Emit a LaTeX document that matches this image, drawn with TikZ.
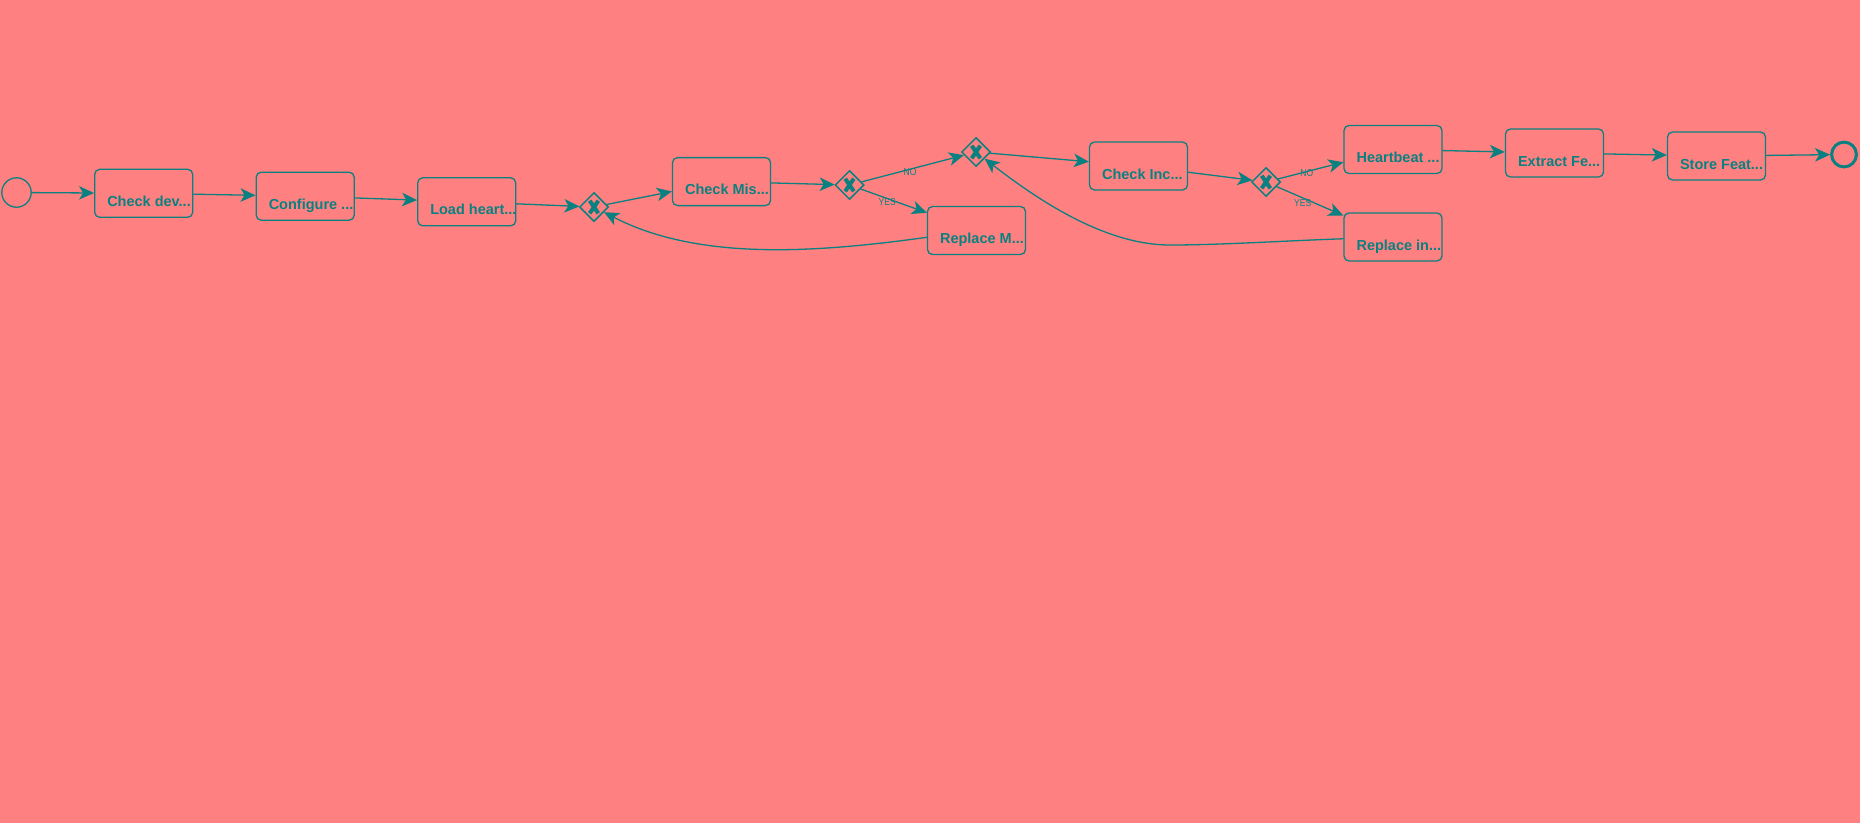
\documentclass[tikz,border=0pt]{standalone}
\usepackage{graphicx}
\usepackage{fontspec}
\setmainfont{Liberation Sans}
\usetikzlibrary{arrows.meta,shapes.geometric}
\definecolor{bg}{HTML}{FF8080}
\definecolor{tl}{HTML}{0B8080}
\begin{document}
\begin{tikzpicture}[x=1pt,y=-1pt,
  task/.style={draw=tl, line width=1.3pt, rounded corners=5pt, minimum width=98pt, minimum height=48pt, inner sep=0pt},
  tasktext/.style={text=tl, font=\fontsize{14.5}{17}\selectfont\bfseries, inner sep=0pt, anchor=base west},
  gw/.style={diamond, draw=tl, line width=1.5pt, minimum width=29pt, minimum height=29pt, inner sep=0pt,
    path picture={\draw[tl, line width=4pt]
      ([shift={(-4.3pt,-6.3pt)}]path picture bounding box.center) -- ([shift={(4.3pt,6.3pt)}]path picture bounding box.center)
      ([shift={(-4.3pt,6.3pt)}]path picture bounding box.center) -- ([shift={(4.3pt,-6.3pt)}]path picture bounding box.center);}},
  flow/.style={draw=tl, line width=1.3pt, -{Stealth[length=15pt,width=13.5pt,inset=4pt]}},
  lbl/.style={text=tl, font=\fontsize{10}{11}\selectfont, inner sep=0pt},
]
\useasboundingbox (0,0) rectangle (1860,823);
\fill[bg] (0,0) rectangle (1860,823);

% events
\node[circle, draw=tl, line width=1.3pt, minimum size=29.4pt, inner sep=0pt] (start) at (16.5,192.5) {};
\node[circle, draw=tl, line width=3pt, minimum size=24.8pt, inner sep=0pt] (stop) at (1844,154.5) {};

% tasks
\node[task] (b1) at (143.7,193.3) {};
\node[task] (b2) at (305.2,196.2) {};
\node[task] (b3) at (466.7,201.8) {};
\node[task] (cm) at (721.5,181.6) {};
\node[task] (rm) at (976.5,230.5) {};
\node[task] (ci) at (1138.5,166) {};
\node[task] (hb) at (1393,149.5) {};
\node[task] (ri) at (1393,237) {};
\node[task] (ex) at (1554.5,153) {};
\node[task] (st) at (1716.5,156) {};

\node[tasktext] (t1) at ([xshift=13pt,yshift=-13pt]b1.west) {Check dev...};
\node[tasktext] (t2) at ([xshift=13pt,yshift=-13pt]b2.west) {Configure ...};
\node[tasktext] (t3) at ([xshift=13pt,yshift=-13pt]b3.west) {Load heart...};
\node[tasktext] (t4) at ([xshift=13pt,yshift=-13pt]cm.west) {Check Mis...};
\node[tasktext] (t5) at ([xshift=13pt,yshift=-13pt]rm.west) {Replace M...};
\node[tasktext] (t6) at ([xshift=13pt,yshift=-13pt]ci.west) {Check Inc...};
\node[tasktext] (t7) at ([xshift=13pt,yshift=-13pt]hb.west) {Heartbeat ...};
\node[tasktext] (t8) at ([xshift=13pt,yshift=-13pt]ri.west) {Replace in...};
\node[tasktext] (t9) at ([xshift=13pt,yshift=-13pt]ex.west) {Extract Fe...};
\node[tasktext] (t10) at ([xshift=13pt,yshift=-13pt]st.west) {Store Feat...};

% gateways
\node[gw] (g1) at (594,207) {};
\node[gw] (g2) at (849.5,185) {};
\node[gw] (g3) at (976,152) {};
\node[gw] (g4) at (1266,182) {};

% flows
\draw[flow] (start) -- (b1);
\draw[flow] (b1) -- (b2);
\draw[flow] (b2) -- (b3);
\draw[flow] (b3) -- (g1);
\draw[flow] (g1) -- (cm);
\draw[flow] (cm) -- (g2);
\draw[flow] (g2) -- node[lbl, pos=0.473, yshift=-3pt] (l1) {\scalebox{0.85}[1]{NO}} (g3);
\draw[flow] (g2) -- node[lbl, pos=0.4, yshift=-4pt] (l2) {\scalebox{0.85}[1]{YES}} (rm);
\draw[flow] (rm) .. controls (820,252) and (700,262) .. (g1);
\draw[flow] (g3) -- (ci);
\draw[flow] (ci) -- (g4);
\draw[flow] (g4) -- node[lbl, pos=0.44, yshift=-1.5pt] (l3) {\scalebox{0.85}[1]{NO}} (hb);
\draw[flow] (g4) -- node[lbl, pos=0.39, yshift=-5pt] (l4) {\scalebox{0.85}[1]{YES}} (ri);
\coordinate (bend) at (1170,245);
\draw[flow] (ri) .. controls (1280,241) and (1220,245) .. (bend) .. controls (1105,245) and (1038,200) .. (g3);
\draw[flow] (hb) -- (ex);
\draw[flow] (ex) -- (st);
\draw[flow] (st) -- (stop);
\end{tikzpicture}
\end{document}
